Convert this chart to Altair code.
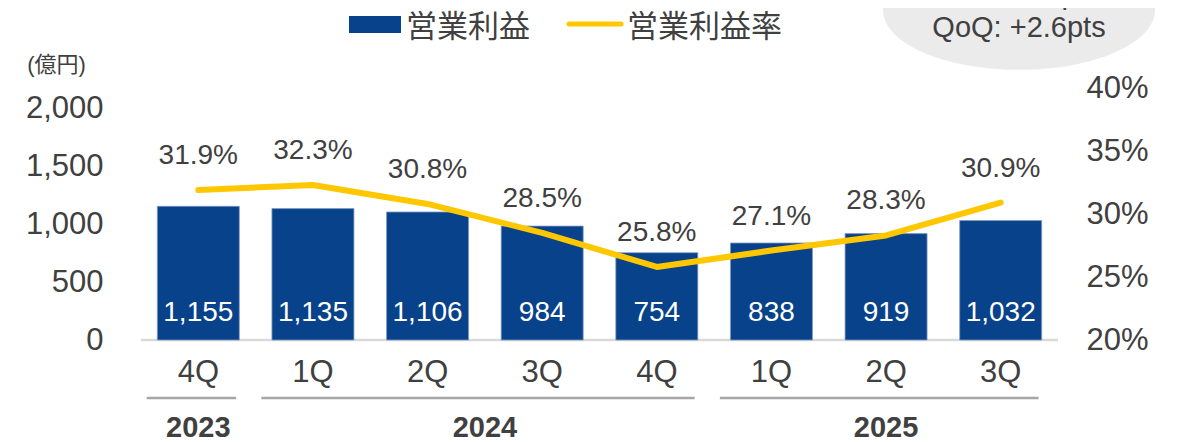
import altair as alt
import pandas as pd

# ---- data ----
years = ["2023", "2024", "2024", "2024", "2024", "2025", "2025", "2025"]
quarters = ["4Q", "1Q", "2Q", "3Q", "4Q", "1Q", "2Q", "3Q"]
profit = [1155, 1135, 1106, 984, 754, 838, 919, 1032]
margin = [31.9, 32.3, 30.8, 28.5, 25.8, 27.1, 28.3, 30.9]
left_ticks = [0, 500, 1000, 1500, 2000]
right_ticks = [20, 25, 30, 35, 40]
legend_labels = ["営業利益", "営業利益率"]
unit_label = "(億円)"
bubble_lines = ["YoY: +2.4pts", "QoQ: +2.6pts"]

df = pd.DataFrame({
    "idx": list(range(len(quarters))),
    "year": years,
    "q": quarters,
    "profit": profit,
    "margin": margin,
})
df["profit_lbl"] = [f"{v:,}" for v in profit]
df["margin_lbl"] = [f"{v:.1f}%" for v in margin]

FONT = "Liberation Sans, Noto Sans CJK JP, sans-serif"
TXT = "#404040"
BLUE = "#08428A"
YEL = "#FFC700"

W, H = 917, 252

XS = alt.Scale(domain=[-0.5, 7.5], nice=False, zero=False, padding=0)
x_idx = alt.X("idx:Q", scale=XS, axis=None)
LS = alt.Scale(domain=[0, 2177], nice=False, zero=True)
RS = alt.Scale(domain=[20, 40], nice=False, zero=False)

base = alt.Chart(df)
one = alt.Chart(pd.DataFrame({"a": [0]}))

baseline = one.mark_rule(color="#d9d9d9", strokeWidth=2.5).encode(
    x=alt.value(0), x2=alt.value(W), y=alt.value(H)
)

bars = base.mark_bar(size=82, color=BLUE, stroke="#7f9bc6", strokeWidth=0.8).encode(
    x=x_idx,
    y=alt.Y(
        "profit:Q",
        scale=LS,
        axis=alt.Axis(
            values=left_ticks, format=",d", labelFontSize=31, labelColor=TXT,
            labelFont=FONT, domain=False, ticks=False, grid=False,
            labelPadding=38, title=None, labelFlush=False, labelOverlap=False,
        ),
    ),
)

bar_labels = base.mark_text(color="white", fontSize=28, font=FONT, baseline="middle").encode(
    x=x_idx, y=alt.value(224.5), text="profit_lbl:N"
)

line = base.mark_line(color=YEL, strokeWidth=6, strokeCap="round", strokeJoin="round").encode(
    x=x_idx,
    y=alt.Y(
        "margin:Q",
        scale=RS,
        axis=alt.Axis(
            orient="right", values=right_ticks, labelExpr="datum.value + '%'",
            labelFontSize=31, labelColor=TXT, labelFont=FONT, domain=False,
            ticks=False, grid=False, labelPadding=28, title=None,
            labelFlush=False, labelOverlap=False,
        ),
    ),
)

pct_labels = base.mark_text(color=TXT, fontSize=28, font=FONT, baseline="middle", dy=-34).encode(
    x=x_idx, y=alt.Y("margin:Q", scale=RS, axis=None), text="margin_lbl:N"
)

q_labels = base.mark_text(color=TXT, fontSize=31, font=FONT, baseline="middle").encode(
    x=x_idx, y=alt.value(284.5), text="q:N"
)

dividers = base.transform_aggregate(
    lo="min(idx)", hi="max(idx)", groupby=["year"]
).transform_calculate(
    x1="datum.lo - 0.45", x2="datum.hi + 0.33"
).mark_rule(color="#a6a6a6", strokeWidth=2.5).encode(
    x=alt.X("x1:Q", scale=XS, axis=None), x2="x2:Q", y=alt.value(310)
)

year_labels = base.transform_aggregate(
    c="mean(idx)", groupby=["year"]
).mark_text(color=TXT, fontSize=29, fontWeight="bold", font=FONT, baseline="middle").encode(
    x=alt.X("c:Q", scale=XS, axis=None), y=alt.value(340), text="year:N"
)

unit = one.mark_text(color=TXT, fontSize=22, font=FONT, baseline="middle").encode(
    x=alt.value(-84.5), y=alt.value(-23), text=alt.value(unit_label)
)

leg_rect = one.mark_rect(color=BLUE).encode(
    x=alt.value(208), x2=alt.value(260), y=alt.value(-72), y2=alt.value(-55)
)
leg_line = one.mark_rule(color=YEL, strokeWidth=5, strokeCap="round").encode(
    x=alt.value(428), x2=alt.value(480), y=alt.value(-64)
)
leg_t1 = one.mark_text(color=TXT, fontSize=31, font=FONT, align="left", baseline="middle").encode(
    x=alt.value(265), y=alt.value(-60), text=alt.value(legend_labels[0])
)
leg_t2 = one.mark_text(color=TXT, fontSize=31, font=FONT, align="left", baseline="middle").encode(
    x=alt.value(486), y=alt.value(-60), text=alt.value(legend_labels[1])
)

ELLIPSE = "M -1 0 A 1 0.44 0 1 0 1 0 A 1 0.44 0 1 0 -1 0 Z"
bubble = one.mark_point(shape=ELLIPSE, size=73984, filled=True, color="#ebebeb", opacity=1).encode(
    x=alt.value(878), y=alt.value(-78)
)
bub_t1 = one.mark_text(color=TXT, fontSize=29, font=FONT, baseline="middle").encode(
    x=alt.value(878), y=alt.value(-93), text=alt.value(bubble_lines[0])
)
bub_t2 = one.mark_text(color=TXT, fontSize=29, font=FONT, baseline="middle").encode(
    x=alt.value(878), y=alt.value(-60), text=alt.value(bubble_lines[1])
)

chart = alt.layer(
    baseline, bars, bar_labels, line, pct_labels, q_labels, dividers, year_labels,
    unit, leg_rect, leg_line, leg_t1, leg_t2, bubble, bub_t1, bub_t2,
).resolve_scale(
    y="independent"
).properties(
    width=W, height=H,
    autosize=alt.AutoSizeParams(type="none"),
    padding={"left": 133, "top": 80, "right": 113, "bottom": 102},
    background="white",
).configure_view(stroke=None)

chart.save("out.html", embed_options={"renderer": "svg", "actions": False})
